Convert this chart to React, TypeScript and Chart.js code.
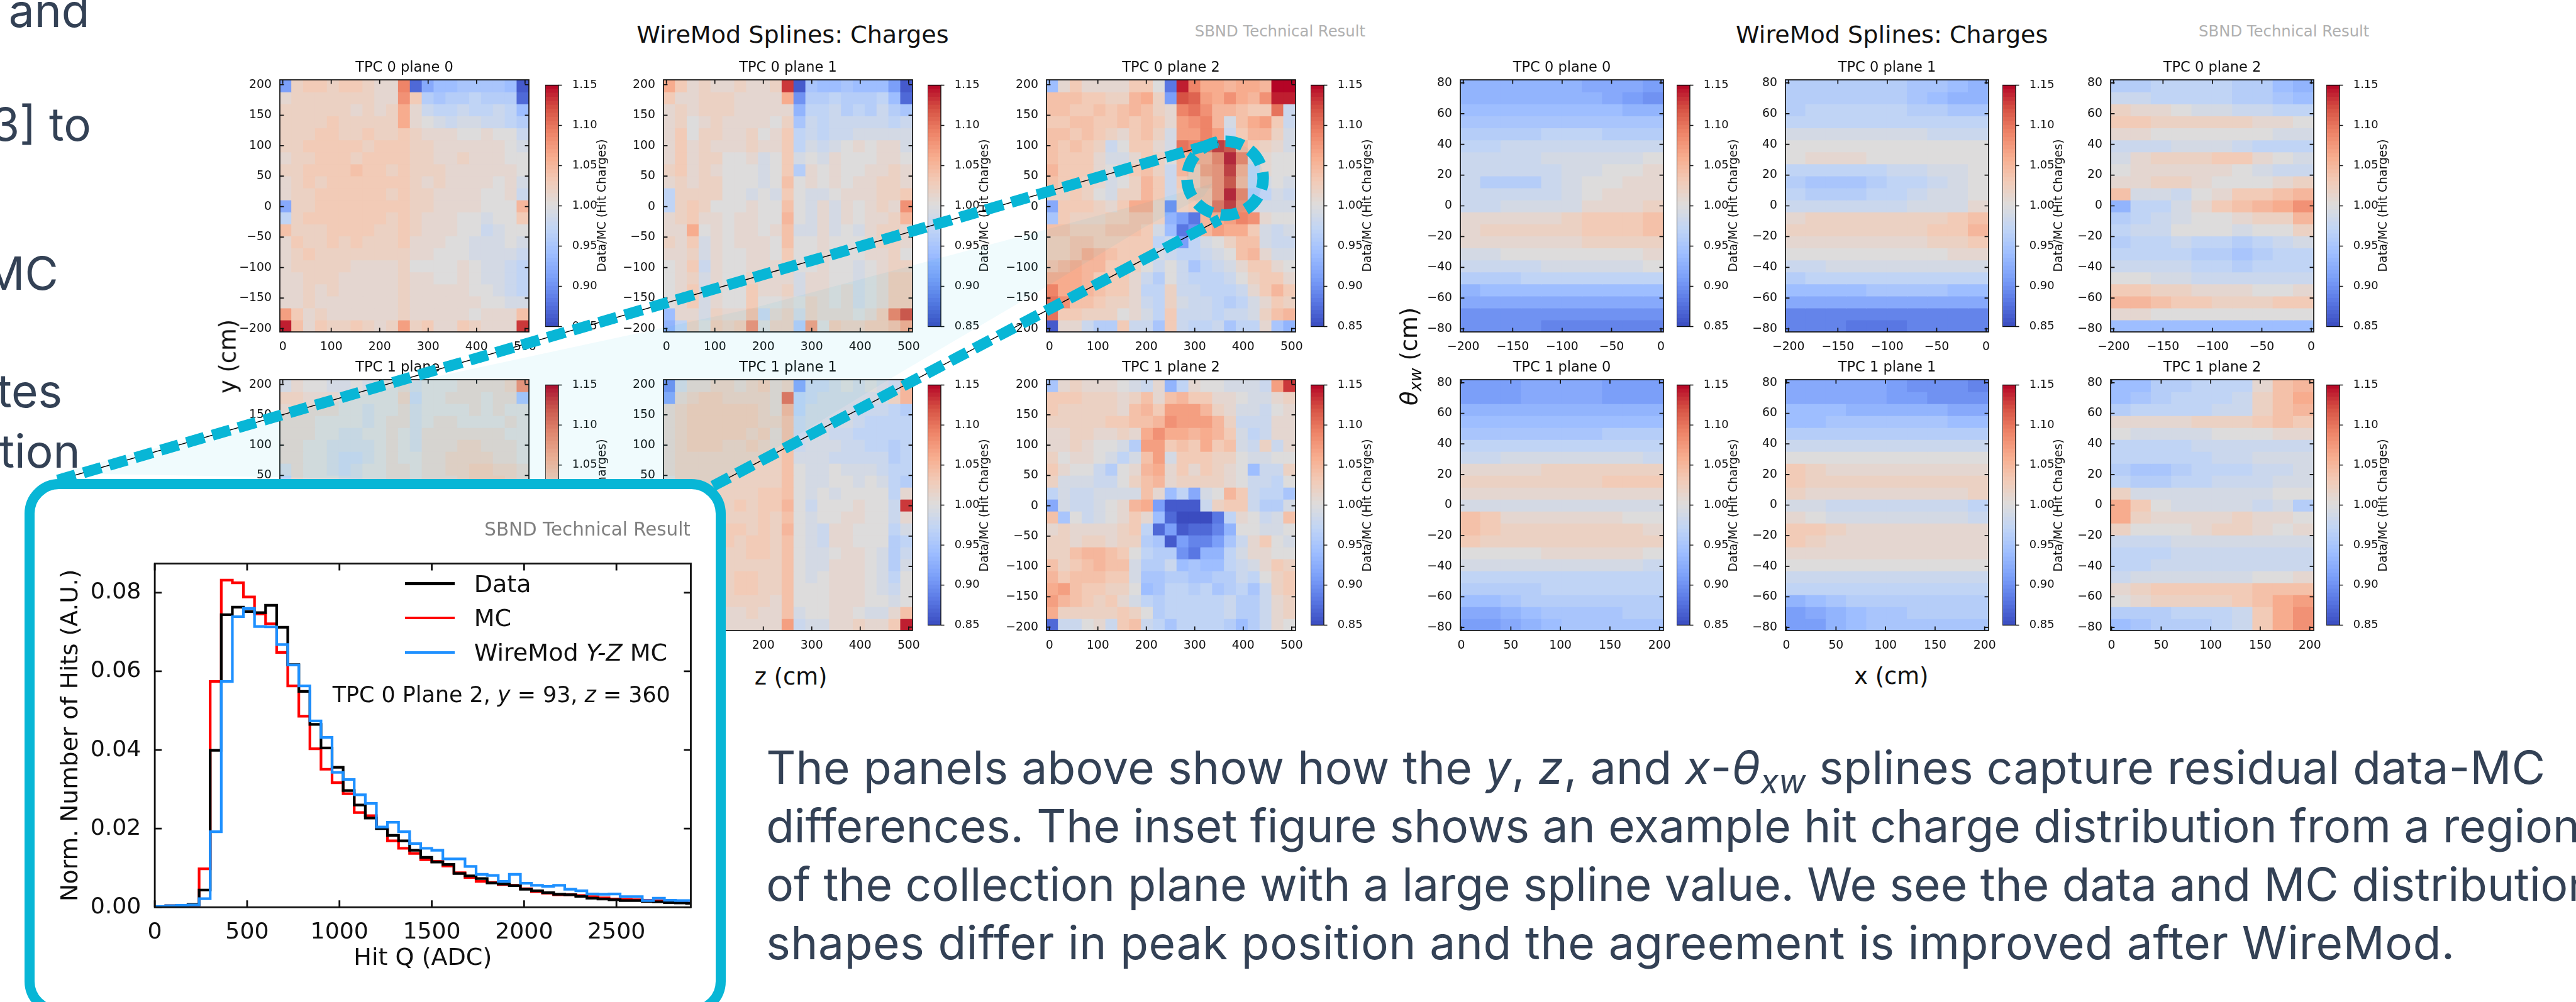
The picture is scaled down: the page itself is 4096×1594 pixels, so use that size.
import React, { useEffect, useRef } from 'react';
import { Chart, registerables } from 'chart.js';
Chart.register(...registerables);

const S = 4096 / 4462;
const DJ = '"DejaVu Sans", sans-serif';

// ---------- heat map values: percent deviation of Data/MC from 1.00, rows from top to bottom ----------
const yzTpc0Plane0 = [
[-9,2,3,3,2,3,3,2,1,1,9,-13,-8,-6,-6,-5,-5,-5,-5,-6,-14],
[1,2,2,2,2,2,2,2,1,1,8,3,-4,-5,-4,-4,-3,-4,-4,-4,-13],
[2,2,2,2,2,2,1,2,1,2,6,1,-2,-3,-3,-2,-3,-3,-2,-3,-6],
[2,2,2,2,3,2,2,2,2,2,6,1,0,-1,-2,-1,-1,-2,-2,-3,-4],
[2,2,2,3,3,2,2,3,2,2,3,2,1,1,1,0,0,1,0,0,-2],
[2,2,3,3,3,3,3,2,3,3,3,2,2,1,1,1,1,1,1,0,-1],
[1,2,2,3,3,3,2,3,3,3,3,2,2,1,1,2,1,1,1,0,0],
[2,2,3,3,3,3,4,3,3,2,3,2,2,2,1,1,1,1,1,1,0],
[1,2,3,2,3,3,3,3,3,3,3,2,1,2,1,1,1,1,0,1,-1],
[1,2,2,3,3,3,3,3,3,2,3,2,2,1,1,1,1,0,0,1,-2],
[-8,2,2,3,3,3,3,3,3,3,3,2,2,1,1,1,1,0,0,0,5],
[-3,2,3,3,3,3,3,3,3,2,3,2,1,1,1,0,0,-1,0,0,3],
[4,2,2,2,3,3,3,3,2,2,3,2,1,1,1,0,0,-2,-1,0,0],
[1,3,2,2,3,2,3,2,2,2,3,1,1,1,0,0,-1,-1,-1,0,-1],
[1,2,3,2,2,2,2,2,2,2,2,1,1,0,0,0,-1,-1,-1,-1,-2],
[1,2,2,2,2,2,1,1,1,1,2,0,0,0,0,1,0,-1,-1,-2,-3],
[1,1,2,2,2,1,1,1,1,1,2,1,1,0,0,1,0,-1,-1,-2,-3],
[1,1,2,1,2,1,1,1,1,1,2,1,1,1,1,1,0,0,-1,-2,-3],
[1,1,2,1,1,1,1,1,1,1,2,1,1,1,1,1,1,0,0,-1,-1],
[7,3,1,2,1,1,1,1,1,1,2,1,1,1,1,1,0,1,1,1,4],
[14,4,1,3,2,2,3,2,1,2,7,2,3,1,1,3,2,1,1,1,13],
];
const yzTpc0Plane1 = [
[6,3,1,2,1,1,2,1,1,2,13,-14,-5,-6,-6,-5,-6,-6,-6,-9,-14],
[3,1,1,2,2,2,1,1,1,1,6,-10,-4,-4,-3,-4,-4,-4,-3,-6,-13],
[1,2,1,2,2,2,1,1,1,1,1,-7,-3,-3,-2,-4,-3,-4,-2,-4,-5],
[1,2,0,1,2,1,1,1,1,0,2,-5,-2,-3,-2,-2,-2,-2,-2,-3,-2],
[1,3,0,2,2,1,1,2,0,1,3,-3,-2,-3,-2,-2,-1,-1,-1,-1,-1],
[1,3,1,2,1,1,1,2,1,1,3,-3,-1,-2,-1,0,1,0,1,1,-1],
[1,3,1,2,2,0,0,1,-1,0,3,-1,0,-1,1,0,0,0,1,1,0],
[2,3,1,2,1,0,0,0,-1,0,3,-4,1,0,1,0,0,1,1,2,1],
[1,2,1,2,2,0,0,0,-1,0,4,0,1,0,1,0,1,1,2,2,1],
[-3,2,2,2,2,0,0,-1,0,-1,3,0,-1,-1,0,1,1,1,2,2,3],
[-3,2,3,2,0,0,0,1,0,0,4,0,-1,1,-1,1,0,1,2,1,8],
[1,2,3,1,1,0,1,1,0,0,5,0,-1,1,-1,1,0,1,1,2,5],
[1,1,6,0,1,0,1,1,0,1,4,-1,-1,1,-1,0,-1,1,2,2,1],
[2,1,3,-1,1,0,1,1,1,0,4,0,0,1,0,0,0,1,2,2,1],
[1,1,2,-1,1,0,0,1,1,0,3,0,0,1,0,0,0,1,1,2,0],
[0,1,3,-2,1,0,0,1,1,1,2,0,0,1,0,0,-1,0,1,2,2],
[0,1,2,-1,1,0,0,2,1,1,1,-1,1,1,0,0,-1,0,1,3,3],
[0,1,3,-1,1,0,0,3,1,1,2,-1,1,1,0,1,-1,0,1,3,3],
[0,1,3,-1,1,0,0,3,0,0,1,0,2,1,0,1,-1,0,1,3,3],
[-6,1,1,-1,2,1,1,4,-2,1,2,-1,2,1,1,1,0,1,3,9,12],
[-7,-3,2,0,3,2,3,8,0,2,2,-4,7,0,3,2,2,3,3,4,6],
];
const yzTpc0Plane2 = [
[-6,1,3,1,1,1,1,3,3,0,-12,14,9,6,6,5,6,6,5,15,15],
[4,4,4,3,3,2,2,5,6,2,-9,12,11,7,6,8,6,5,8,14,14],
[4,4,3,3,4,3,4,5,4,2,1,9,10,8,5,5,4,3,3,10,-2],
[3,3,4,4,3,3,4,3,4,3,1,7,8,9,5,-1,4,6,7,3,-2],
[4,4,3,4,3,2,1,3,4,2,-1,7,7,9,7,-2,3,5,5,2,-1],
[4,3,4,3,2,-2,0,3,3,1,-1,10,9,10,13,12,5,3,2,1,-1],
[4,3,3,3,1,-1,-1,1,3,2,0,5,6,6,9,14,9,-1,1,0,0],
[5,3,3,3,1,0,1,3,4,2,-2,5,3,7,8,13,6,-3,1,0,0],
[4,3,3,2,1,-1,0,2,5,3,-2,3,3,5,8,12,5,-3,-1,0,-1],
[2,2,3,2,0,-1,2,2,5,3,-2,2,4,4,8,14,9,-4,-3,-1,-2],
[-8,3,3,3,2,1,3,6,6,2,-10,2,3,4,10,13,8,-1,-1,-1,-1],
[-5,3,2,2,2,3,3,4,4,2,-7,-9,-12,5,6,7,9,8,1,0,0],
[4,4,3,3,3,4,4,4,3,-1,-6,-12,-10,5,7,6,6,3,-1,-2,-1],
[3,3,4,4,3,3,3,3,3,-3,-2,-9,-3,-1,0,2,4,4,-1,-2,-2],
[3,3,4,6,5,4,3,3,3,-1,-2,-3,-3,-2,-1,0,4,5,1,-1,-1],
[4,5,6,5,5,3,3,2,0,-2,0,-2,-5,-3,-2,-1,1,3,3,1,0],
[6,6,6,5,3,3,3,1,-2,-4,0,-2,-3,-3,-3,-2,0,2,3,3,1],
[9,6,6,5,4,3,3,1,-3,-3,2,-2,-2,-3,-3,-3,-2,1,3,5,3],
[10,8,4,4,3,2,2,1,-2,-3,2,-1,-2,-2,-3,-4,-3,-1,1,3,2],
[10,3,3,2,2,2,0,1,-1,-3,3,-2,-2,-2,-3,-2,-2,-1,2,4,5],
[-14,1,1,-2,-4,-4,3,-2,-2,-5,3,-2,-3,-3,-2,-5,-3,-3,1,-5,-7],
];
// only the rows that the inset does not cover can be read
const yzTpc1Plane0 = [
[-1,1,0,0,-1,-1,0,-1,0,0,1,-1,0,0,0,1,1,1,1,2,8],
[2,2,1,1,1,0,0,0,0,0,2,-2,0,0,1,1,1,0,1,1,-5],
[1,2,1,1,1,0,0,-1,0,0,1,-1,0,0,0,0,1,0,1,0,0],
[1,1,1,0,0,0,0,-1,0,1,1,-1,0,1,1,0,0,0,0,1,0],
[1,1,1,0,0,-1,-1,0,0,1,0,-1,1,1,1,1,1,1,1,0,0],
[1,1,0,0,-1,-1,-1,-1,0,1,0,-1,1,1,1,2,2,1,1,1,0],
[1,1,0,0,-1,-2,-2,-1,0,1,0,0,1,1,2,2,2,2,1,1,0],
[-1,1,0,0,-1,-2,-1,0,0,1,1,0,1,1,2,2,3,3,2,2,1],
[-3,1,0,0,0,-1,-1,0,0,1,1,0,1,1,1,2,3,3,3,2,1],
];
const yzTpc1Plane1 = [
[-10,-1,1,1,2,2,1,2,3,1,2,-8,-2,-2,-1,0,-1,0,-1,-2,5],
[-8,1,2,3,3,2,2,2,2,1,10,-3,-2,-1,-1,-1,-1,-1,-1,2,5],
[1,2,3,3,3,3,3,3,2,1,5,-3,-1,-1,-1,-1,-2,-2,-2,-3,-4],
[1,2,3,3,3,3,3,3,2,2,4,-2,-1,-1,-1,-1,-2,-3,-3,-3,-3],
[1,2,3,3,3,3,3,2,3,1,4,-2,-1,-1,-2,-2,-3,-3,-3,-3,-3],
[1,2,3,3,3,2,2,3,2,1,4,-2,-1,-1,-1,-2,-2,-3,-3,-4,-3],
[1,2,2,2,2,2,2,2,2,2,4,-1,-1,-1,-2,-2,-2,-2,-2,-4,-3],
[1,2,2,2,2,2,2,2,2,2,4,0,-1,-1,0,-1,-1,-1,-2,-3,-3],
[0,2,2,2,2,2,2,2,2,2,4,0,-1,-1,0,0,-1,0,-1,-3,-4],
[0,2,2,2,2,2,2,2,3,3,4,0,-1,0,-1,0,0,0,0,-3,1],
[0,1,2,2,2,2,3,2,3,3,5,0,-2,0,0,0,1,0,0,-2,13],
[0,1,2,2,2,2,2,2,3,2,4,0,-1,0,0,1,1,0,0,-2,1],
[0,1,2,2,2,3,3,2,3,2,5,0,-1,-2,1,1,0,0,0,-3,-1],
[0,1,2,2,2,3,2,3,3,2,4,0,-1,-2,1,1,0,0,0,-4,-3],
[0,1,2,2,2,2,2,3,3,2,4,0,-1,-1,0,1,1,0,-1,-4,-2],
[0,1,2,2,2,2,2,2,2,2,4,0,-1,-1,1,1,1,0,-1,-4,-1],
[0,1,2,2,2,2,3,3,2,2,4,0,-1,0,1,1,1,0,-1,-3,0],
[0,1,2,2,2,2,3,3,2,2,4,0,0,0,1,1,1,0,-1,-2,0],
[0,1,1,1,2,2,2,2,2,1,4,0,0,0,1,1,1,0,0,-1,0],
[0,1,1,1,1,1,1,2,1,1,4,-1,0,0,1,1,0,-1,-1,1,4],
[0,1,1,1,1,1,1,1,1,1,7,-2,-1,-1,1,1,2,1,1,3,14],
];
const yzTpc1Plane2 = [
[-5,1,2,1,1,1,0,-1,-2,1,-7,-3,1,0,0,-1,-1,-1,-2,7,13],
[3,3,3,2,2,2,1,2,4,1,4,5,3,3,1,1,0,-1,-1,1,2],
[3,2,2,2,2,2,1,4,5,3,7,7,7,5,2,1,-1,-1,-2,0,1],
[2,2,2,2,2,3,3,4,4,5,8,7,7,7,5,2,-2,-2,-2,1,1],
[1,1,2,2,1,1,2,1,6,8,6,6,5,6,5,3,-1,-3,-2,1,1],
[1,1,2,1,0,0,-1,-4,7,7,3,4,3,6,3,4,-1,-2,2,-2,1],
[2,0,1,1,0,-1,-3,-1,4,7,-1,3,3,3,2,2,0,-1,-1,0,0],
[3,1,0,0,-2,-4,0,1,5,6,1,3,1,3,2,1,0,-6,-2,-2,2],
[2,-1,-1,-1,-2,-2,0,2,4,5,1,2,2,2,2,1,0,-2,-2,-3,0],
[-3,-1,-2,-2,-1,-1,-1,-1,4,1,-6,-3,-8,-1,0,5,3,-2,-3,-3,-5],
[-8,-1,-2,-2,-1,0,1,5,6,-9,-14,-14,-14,-2,2,3,3,-2,-4,-4,-1],
[4,-5,0,-2,-1,0,1,3,1,-6,-13,-15,-15,-15,-12,-3,1,0,-2,-1,4],
[1,2,1,1,1,1,2,3,-3,-13,-9,-14,-13,-13,-11,-7,0,0,-1,-1,0],
[2,2,1,2,2,1,2,2,-4,-5,-14,-9,-11,-11,-9,-5,-2,1,3,0,-1],
[2,2,4,5,5,4,3,0,-3,-4,-4,-10,-12,-7,-7,-3,-1,1,1,0,0],
[4,2,3,4,5,4,4,-1,-4,-4,-2,-6,-5,-6,-6,-3,-2,-1,1,3,2],
[5,3,4,4,4,3,3,-1,-5,-5,-4,-4,-5,-5,-4,-4,-2,-3,0,2,3],
[6,7,4,3,3,2,2,0,-6,-5,-3,-3,-4,-3,-5,-4,-3,-5,-2,2,3],
[7,5,4,3,2,3,1,-1,-3,-4,-3,-3,-3,-3,-3,-2,-4,-4,-2,1,2],
[6,2,2,2,2,2,3,2,0,-4,-3,-3,-3,-3,-3,-2,-4,-4,-2,1,2],
[-13,-2,-2,0,1,-2,3,4,-2,-3,-5,-3,-3,-3,-3,-4,-6,-4,-2,1,0],
];
const xtTpc0Plane0 = [
[-7,-7,-7,-7,-7,-7,-8,-8,-8,-9],[-7,-7,-7,-7,-7,-7,-7,-8,-9,-10],[-6,-6,-6,-6,-6,-6,-6,-6,-7,-7],
[-5,-5,-5,-5,-5,-5,-5,-5,-5,-5],[-4,-4,-4,-4,-3,-3,-3,-4,-4,-4],[-3,-3,-2,-2,-2,-2,-2,-2,-2,-2],
[-2,-2,-2,-2,-1,-1,-1,-1,-1,0],[-2,-2,-2,-2,-2,-1,-1,0,0,1],[-2,-4,-4,-4,-2,-1,0,0,1,1],
[-2,-2,-2,-2,-2,-1,0,1,1,1],[-2,-2,-1,-1,-1,-1,1,1,1,2],[1,1,1,1,1,2,3,3,3,4],
[1,2,2,2,2,2,3,3,3,4],[1,1,1,1,1,1,2,2,2,2],[-1,-1,0,0,0,0,0,0,0,1],
[-2,-2,-2,-2,-1,-1,-1,-1,-1,0],[-4,-4,-4,-3,-3,-3,-3,-3,-3,-3],[-7,-6,-6,-6,-6,-6,-6,-6,-6,-6],
[-8,-8,-8,-8,-8,-8,-8,-8,-8,-8],[-10,-10,-10,-10,-10,-10,-10,-10,-10,-10],[-10,-10,-10,-10,-11,-11,-11,-11,-11,-11],
];
const xtTpc0Plane1 = [
[-4,-4,-4,-4,-4,-4,-5,-5,-6,-7],[-4,-4,-4,-4,-4,-4,-5,-6,-7,-7],[-4,-3,-3,-3,-3,-3,-4,-4,-5,-5],
[-3,-3,-3,-3,-3,-3,-3,-3,-3,-3],[-1,-1,-1,-1,-1,-1,-1,-2,-2,-2],[0,0,0,0,0,0,0,0,0,0],
[0,1,1,1,0,0,0,0,0,0],[-3,-3,-3,-3,-3,-2,-2,-1,-1,0],[-4,-5,-5,-5,-4,-3,-3,-2,-1,0],
[-3,-4,-4,-4,-3,-3,-2,-1,-1,0],[-2,-2,-2,-2,-2,-2,-1,-1,-1,1],[1,2,2,2,2,2,2,2,3,4],
[2,2,2,2,2,2,2,3,3,5],[1,1,1,1,1,1,1,2,2,3],[0,0,0,0,0,0,0,0,1,1],
[-2,-2,-1,-1,-1,-1,-1,-1,-1,-1],[-4,-3,-3,-3,-3,-3,-3,-3,-3,-3],[-6,-6,-6,-6,-5,-5,-5,-5,-6,-6],
[-8,-8,-8,-8,-8,-8,-8,-8,-8,-8],[-11,-11,-11,-11,-11,-11,-11,-11,-11,-11],[-11,-11,-11,-12,-12,-12,-11,-11,-11,-11],
];
const xtTpc0Plane2 = [
[-4,-4,-3,-3,-3,-3,-4,-4,-6,-7],[-2,-2,-3,-3,-3,-3,-4,-4,-5,-6],[2,1,1,0,-1,-1,-2,-2,-3,-3],
[3,3,2,2,2,2,2,1,1,0],[1,1,0,0,0,0,0,0,-1,-1],[-2,-2,-2,-1,-1,-1,-2,-3,-3,-3],
[-1,1,2,2,2,3,3,1,0,-1],[0,1,1,1,1,1,0,-1,-2,-2],[1,1,2,2,1,0,0,0,1,2],
[4,-1,-1,-2,0,1,3,3,4,5],[-7,-3,-3,-1,1,3,4,5,6,8],[-4,-3,-2,-1,0,0,1,2,2,5],
[-3,-2,-2,0,0,0,-1,0,0,2],[-4,-3,-3,-2,-3,-3,-4,-3,-2,-1],[-3,-3,-3,-3,-4,-4,-5,-4,-3,-3],
[-2,-2,-2,-2,-3,-3,-4,-3,-3,-3],[0,0,-1,-1,-2,-2,-2,-2,-2,-2],[3,3,2,2,1,1,1,0,0,1],
[5,5,4,3,3,2,2,2,3,3],[1,1,0,0,0,0,0,0,0,0],[-6,-6,-6,-6,-6,-6,-6,-6,-6,-6],
];
const xtTpc1Plane0 = [
[-9,-9,-9,-8,-8,-8,-8,-9,-9,-9],[-9,-9,-9,-8,-8,-8,-8,-9,-9,-9],[-7,-7,-7,-7,-7,-7,-7,-7,-7,-7],
[-6,-6,-6,-6,-6,-6,-6,-6,-6,-6],[-5,-5,-5,-5,-5,-5,-5,-4,-4,-4],[-3,-3,-3,-3,-3,-3,-3,-3,-3,-3],
[-2,-2,-1,-1,-1,-1,-1,-1,-1,-2],[1,1,1,1,2,2,2,2,2,2],[2,2,2,2,2,2,2,3,3,3],
[1,1,1,1,1,1,1,1,1,1],[-1,-1,-1,-1,-1,-1,-1,-1,-1,-1],[4,3,1,1,1,1,1,1,0,0],
[4,3,2,2,2,2,2,2,2,1],[3,2,2,2,2,2,2,2,2,2],[0,0,0,0,1,1,1,1,1,0],
[-1,-1,-1,-1,-1,-1,-1,-1,-1,-2],[-3,-3,-3,-3,-3,-3,-3,-3,-3,-3],[-4,-4,-4,-4,-3,-3,-3,-3,-3,-3],
[-6,-6,-5,-4,-4,-4,-4,-4,-4,-4],[-8,-8,-7,-6,-5,-5,-5,-5,-4,-4],[-9,-9,-8,-7,-6,-5,-5,-5,-5,-5],
];
const xtTpc1Plane1 = [
[-8,-8,-8,-8,-8,-9,-10,-10,-10,-11],[-8,-8,-8,-8,-8,-9,-9,-10,-10,-10],[-6,-6,-6,-7,-7,-7,-7,-7,-8,-8],
[-6,-6,-5,-5,-5,-5,-5,-5,-6,-6],[-4,-4,-4,-4,-4,-4,-4,-4,-4,-4],[-2,-2,-2,-2,-2,-2,-2,-2,-2,-2],
[0,0,0,0,0,0,0,0,0,0],[3,2,1,1,1,1,1,1,1,1],[3,2,2,2,2,2,2,2,2,2],
[2,1,1,1,1,1,1,1,1,2],[-1,-1,-2,-2,-2,-2,-2,-2,-2,-3],[1,0,-1,-1,-1,-1,-1,-1,-1,-2],
[3,3,2,1,1,1,1,1,1,1],[3,2,1,1,1,1,1,1,1,1],[1,1,1,1,1,1,1,1,1,1],
[0,0,0,0,0,0,0,0,0,0],[-2,-2,-2,-2,-2,-2,-2,-2,-2,-2],[-3,-3,-3,-3,-3,-3,-3,-3,-3,-3],
[-7,-6,-5,-4,-4,-4,-4,-4,-4,-4],[-9,-8,-7,-6,-5,-5,-4,-4,-4,-4],[-9,-9,-7,-6,-5,-5,-5,-5,-5,-5],
];
const xtTpc1Plane2 = [
[-6,-6,-4,-4,-3,-3,-3,1,4,5],[-6,-5,-4,-3,-3,-3,-2,2,4,6],[-4,-3,-3,-3,-3,-2,-2,2,4,5],
[1,1,1,1,2,2,2,3,4,3],[0,-1,-1,-1,-1,0,0,0,1,1],[-3,-3,-3,-3,-2,-2,-2,-2,-2,-2],
[-3,-3,-3,-3,-3,-2,-2,-1,-1,-1],[-4,-5,-5,-4,-3,-3,-3,-2,-2,-1],[-3,-4,-4,-3,-3,-2,-2,-2,-1,-1],
[2,-1,-1,-1,-1,-1,-1,-1,0,0],[6,3,0,-1,-1,-1,-1,-2,-1,-4],[6,2,1,1,1,1,2,1,1,0],
[2,0,0,0,1,2,2,1,0,1],[-2,-2,-2,-1,-1,-1,-1,-1,-1,-1],[-3,-3,-3,-2,-2,-2,-2,-2,-2,-2],
[-3,-3,-2,-2,-2,-2,-2,-2,-2,-2],[-2,-1,-1,-1,-1,-1,-1,0,0,1],[1,2,3,3,3,3,3,4,4,4],
[0,1,2,2,2,2,3,4,6,7],[-4,-4,-4,-3,-3,-3,-2,3,6,8],[-6,-5,-4,-4,-4,-3,-2,3,6,8],
];

// ---------- inset histogram: 60 ADC bins from 0 ----------
const hitBinWidth = 60;
const hitData = [.0002,.0004,.0005,.0007,.0044,.0399,.0744,.0763,.0752,.0749,.0768,.0712,.0617,.0549,.0465,.0405,.0356,.0297,.026,.0227,.02,.0183,.0169,.0145,.0127,.0115,.0109,.0086,.008,.0073,.0062,.0059,.0055,.0046,.0042,.0037,.0033,.0032,.0028,.0023,.0021,.0019,.0017,.0017,.0015,.0014,.0012,.0011,.001];
const hitMC = [.0002,.0004,.0005,.0006,.0098,.0574,.0832,.0825,.0789,.0746,.0721,.0648,.0563,.0486,.0403,.0351,.0317,.0289,.0241,.0233,.0202,.0169,.015,.0137,.0121,.0117,.0105,.0088,.0076,.0066,.0063,.0058,.0056,.0047,.004,.0036,.0032,.0032,.003,.0027,.0024,.0021,.002,.0019,.0018,.0016,.0014,.0013,.0012];
const hitWireMod = [.0002,.0004,.0005,.0006,.0022,.0192,.0574,.0739,.076,.0714,.0713,.0668,.0616,.0563,.0474,.0432,.0343,.0325,.0286,.0264,.0204,.0216,.0192,.0162,.015,.0145,.0123,.0123,.0104,.0084,.0081,.0066,.0084,.0061,.0056,.0053,.0056,.0046,.0042,.0034,.0033,.0034,.0027,.0027,.0017,.0023,.0018,.0017,.0017];
const hitYTicks = [0, 0.02, 0.04, 0.06, 0.08];
const hitXTicks = [0, 500, 1000, 1500, 2000, 2500];

const zTicks = [0, 100, 200, 300, 400, 500];
const yTicks = [-200, -150, -100, -50, 0, 50, 100, 150, 200];
const thetaTicks = [-80, -60, -40, -20, 0, 20, 40, 60, 80];
const xTicksNeg = [-200, -150, -100, -50, 0];
const xTicksPos = [0, 50, 100, 150, 200];
const cbTicks = [0.85, 0.9, 0.95, 1.0, 1.05, 1.1, 1.15];

// ---------- colour map ----------
const coolwarm = ['#3b4cc0','#5977e3','#7b9ff9','#9ebeff','#c0d4f5','#dddcdc','#f2cbb7','#f7ac8e','#ee8468','#d65244','#b40426'];
const rgb = coolwarm.map(h => [1, 3, 5].map(i => parseInt(h.slice(i, i + 2), 16)));
function cmap(v: number) {
  const t = Math.max(0, Math.min(1, (v - 0.85) / 0.3)) * 10;
  const i = Math.min(9, Math.floor(t));
  const f = t - i;
  const c = rgb[i].map((a, k) => Math.round(a + (rgb[i + 1][k] - a) * f));
  return `rgb(${c[0]},${c[1]},${c[2]})`;
}
const fmtMinus = (v: number) => String(v).replace('-', '\u2212');

function framePlugin(len: number, lw: number, outward = false) {
  return {
    id: 'frame' + Math.random(),
    afterDraw(chart: any) {
      const { ctx, chartArea: a, scales } = chart;
      ctx.save();
      ctx.strokeStyle = '#111';
      ctx.lineWidth = lw;
      ctx.strokeRect(a.left, a.top, a.right - a.left, a.bottom - a.top);
      ctx.beginPath();
      if (outward) {
        scales.y.ticks.forEach((t: any) => {
          const p = scales.y.getPixelForValue(t.value);
          ctx.moveTo(a.right, p); ctx.lineTo(a.right + len, p);
        });
      } else {
        scales.x.ticks.forEach((t: any) => {
          const p = scales.x.getPixelForValue(t.value);
          ctx.moveTo(p, a.top); ctx.lineTo(p, a.top + len);
          ctx.moveTo(p, a.bottom); ctx.lineTo(p, a.bottom - len);
        });
        scales.y.ticks.forEach((t: any) => {
          const p = scales.y.getPixelForValue(t.value);
          ctx.moveTo(a.left, p); ctx.lineTo(a.left + len, p);
          ctx.moveTo(a.right, p); ctx.lineTo(a.right - len, p);
        });
      }
      ctx.stroke();
      ctx.restore();
    },
  };
}

function Heat({ x, y, w, h, title, grid, rows, xr, yr, xt, yt }: any) {
  const ref = useRef<HTMLCanvasElement>(null);
  const padL = 75, padR = 26, padB = 42, titleH = 32;
  const W = Math.round(w * S) + padL + padR;
  const H = Math.round(h * S) + titleH + padB;
  useEffect(() => {
    const nr = rows || grid.length;
    const nc = grid[0].length;
    const dx = (xr[1] - xr[0]) / nc;
    const dy = (yr[1] - yr[0]) / nr;
    const datasets = grid.map((row: number[], r: number) => ({
      data: row.map((_: number, c: number) => ({
        x: xr[0] + (c + 0.5) * dx,
        y: [yr[1] - (r + 1) * dy, yr[1] - r * dy],
      })),
      backgroundColor: row.map((v: number) => cmap(1 + v / 100)),
      borderWidth: 0,
      inflateAmount: 0.7,
      barPercentage: 1,
      categoryPercentage: 1,
      grouped: false,
    }));
    const chart = new Chart(ref.current!, {
      type: 'bar',
      data: { datasets },
      plugins: [framePlugin(7 * S, 1.7)],
      options: {
        responsive: false,
        animation: false,
        events: [],
        devicePixelRatio: 1,
        layout: { padding: { left: 0, right: padR, top: 0, bottom: 0 } },
        plugins: {
          legend: { display: false },
          tooltip: { enabled: false },
          title: {
            display: true,
            fullSize: false,
            text: title,
            color: '#111',
            font: { family: DJ, size: 24.5 * S, weight: 'normal' },
            padding: { top: 0, bottom: 5 },
          },
        },
        scales: {
          x: {
            type: 'linear', min: xr[0], max: xr[1], offset: false,
            grid: { display: false }, border: { display: false },
            afterBuildTicks: (s: any) => { s.ticks = xt.map((value: number) => ({ value })); },
            afterFit: (s: any) => { s.height = padB; },
            ticks: { callback: fmtMinus, color: '#111', maxRotation: 0, autoSkip: false, padding: 5, font: { family: DJ, size: 20.5 * S } },
          },
          y: {
            type: 'linear', min: yr[0], max: yr[1],
            grid: { display: false }, border: { display: false },
            afterBuildTicks: (s: any) => { s.ticks = yt.map((value: number) => ({ value })); },
            afterFit: (s: any) => { s.width = padL; },
            ticks: { callback: fmtMinus, color: '#111', autoSkip: false, padding: 5, font: { family: DJ, size: 20.5 * S } },
          },
        },
      } as any,
    });
    return () => chart.destroy();
  }, []);
  return <canvas ref={ref} width={W} height={H} style={{ position: 'absolute', left: Math.round(x * S) - padL, top: Math.round(y * S) - titleH }} />;
}

const cbEdges = Array.from({ length: 61 }, (_, i) => 0.85 + i * 0.005);

function ColorBar({ x, y, h }: any) {
  const ref = useRef<HTMLCanvasElement>(null);
  const pad = 16, cw = Math.round(23 * S), axisW = 68;
  useEffect(() => {
    const datasets = cbEdges.slice(0, -1).map((lo, i) => ({
      data: [[lo, cbEdges[i + 1]]],
      backgroundColor: cmap(lo + 0.0025),
      borderWidth: 0,
      inflateAmount: 0.7,
      barPercentage: 1,
      categoryPercentage: 1,
      grouped: false,
    }));
    const chart = new Chart(ref.current!, {
      type: 'bar',
      data: { labels: ['cb'], datasets },
      plugins: [framePlugin(6 * S, 1.4, true)],
      options: {
        responsive: false,
        animation: false,
        events: [],
        devicePixelRatio: 1,
        layout: { padding: { top: pad, bottom: pad, left: 0, right: 0 } },
        plugins: { legend: { display: false }, tooltip: { enabled: false } },
        scales: {
          x: { display: false, offset: true },
          y: {
            type: 'linear', position: 'right', min: 0.85, max: 1.15,
            grid: { display: false }, border: { display: false },
            afterBuildTicks: (s: any) => { s.ticks = cbTicks.map((value) => ({ value })); },
            afterFit: (s: any) => { s.width = axisW; },
            ticks: { callback: (v: number) => Number(v).toFixed(2), color: '#111', autoSkip: false, padding: 15 * S, font: { family: DJ, size: 19.5 * S } },
          },
        },
      } as any,
    });
    return () => chart.destroy();
  }, []);
  return <canvas ref={ref} width={cw + axisW} height={Math.round(h * S) + 2 * pad} style={{ position: 'absolute', left: Math.round(x * S), top: Math.round(y * S) - pad }} />;
}

function Inset() {
  const ref = useRef<HTMLCanvasElement>(null);
  const L = 99, T = 938, R = 1215, B = 1686;
  const plotL = 268, plotT = 958, plotR = 1197, plotB = 1572;
  useEffect(() => {
    const pts = (vals: number[]) => [...vals, vals[vals.length - 1]].map((v, i) => ({ x: i * hitBinWidth, y: v }));
    const line = (label: string, vals: number[], color: string) => ({
      label, data: pts(vals), borderColor: color, borderWidth: 4.6 * S, pointRadius: 0,
      stepped: 'before', fill: false, borderJoinStyle: 'miter', tension: 0,
    });
    const chart = new Chart(ref.current!, {
      type: 'line',
      data: { datasets: [line('WireMod Y-Z MC', hitWireMod, '#1e90ff'), line('Data', hitData, '#000000'), line('MC', hitMC, '#ff0000')] },
      plugins: [framePlugin(12 * S, 2.8)],
      options: {
        responsive: false,
        animation: false,
        events: [],
        devicePixelRatio: 1,
        layout: { padding: { left: 0, top: (plotT - T) * S, right: (R - plotR) * S, bottom: 0 } },
        plugins: { legend: { display: false }, tooltip: { enabled: false } },
        scales: {
          x: {
            type: 'linear', min: 0, max: 2903,
            grid: { display: false }, border: { display: false },
            afterBuildTicks: (s: any) => { s.ticks = hitXTicks.map((value) => ({ value })); },
            afterFit: (s: any) => { s.height = (B - plotB) * S; },
            title: { display: true, text: 'Hit Q (ADC)', color: '#111', padding: 0, font: { family: DJ, size: 41.5 * S } },
            ticks: { callback: (v: number) => String(v), color: '#111', autoSkip: false, maxRotation: 0, padding: 11 * S, font: { family: DJ, size: 39.5 * S } },
          },
          y: {
            type: 'linear', min: 0, max: 0.0874,
            grid: { display: false }, border: { display: false },
            afterBuildTicks: (s: any) => { s.ticks = hitYTicks.map((value) => ({ value })); },
            afterFit: (s: any) => { s.width = (plotL - L) * S; },
            title: { display: true, text: 'Norm. Number of Hits (A.U.)', color: '#111', padding: 0, font: { family: DJ, size: 41 * S } },
            ticks: { callback: (v: number) => Number(v).toFixed(2), color: '#111', autoSkip: false, padding: 15 * S, font: { family: DJ, size: 39.5 * S } },
          },
        },
      } as any,
    });
    return () => chart.destroy();
  }, []);
  return <canvas ref={ref} width={Math.round((R - L) * S)} height={Math.round((B - T) * S)} style={{ position: 'absolute', left: L * S, top: T * S, zIndex: 5 }} />;
}

// centred label, reference coordinates
function Lbl({ x, y, fs, rot, color, z, children, font, anchor }: any) {
  const tx = anchor === 'left' ? '0' : anchor === 'right' ? '-100%' : '-50%';
  return (
    <div style={{
      position: 'absolute', left: x * S, top: y * S, whiteSpace: 'nowrap', fontFamily: font || DJ, fontSize: fs * S,
      lineHeight: 1, color: color || '#111', zIndex: z || 1,
      transform: `translate(${tx},-50%)${rot ? ` rotate(${rot}deg)` : ''}`,
    }}>{children}</div>
  );
}

const INTER = 'Inter, "Noto Sans", sans-serif';
const SLATE = '#334155';
const BODY_FS = 79.5;
// baseline in reference coordinates
function BodyLine({ x, base, right, ls, children }: any) {
  const top = (base - 0.8636 * BODY_FS) * S;
  const pos: any = right !== undefined ? { left: right * S, transform: 'translateX(-100%)' } : { left: x * S };
  return <div style={{ position: 'absolute', top, ...pos, whiteSpace: 'nowrap', fontFamily: INTER, fontSize: BODY_FS * S, lineHeight: 1, color: SLATE, letterSpacing: ls ? ls * S : undefined }}>{children}</div>;
}

const leftX = [485, 1149, 1813], leftCb = [944, 1607, 2270];
const rightX = [2530, 3093, 3656], rightCb = [2904, 3468, 4030];
const rowY = [138, 658], rowH = [437, 435];
const yzGrids = [[yzTpc0Plane0, yzTpc0Plane1, yzTpc0Plane2], [yzTpc1Plane0, yzTpc1Plane1, yzTpc1Plane2]];
const xtGrids = [[xtTpc0Plane0, xtTpc0Plane1, xtTpc0Plane2], [xtTpc1Plane0, xtTpc1Plane1, xtTpc1Plane2]];
const CY = '#08b6d6';

export default function App() {
  useEffect(() => {
    document.body.style.margin = '0';
    document.documentElement.style.overflow = 'hidden';
    document.body.style.overflow = 'hidden';
    document.body.style.background = '#fff';
  }, []);
  const sub = { fontSize: '0.72em', verticalAlign: '-0.28em', lineHeight: 0 };
  return (
    <div style={{ position: 'fixed', left: 0, top: 0, width: 4096, height: 1594, overflow: 'hidden', background: '#fff' }}>
      {/* left text fragments */}
      <BodyLine x={15} base={47}>and</BodyLine>
      <BodyLine right={158} base={244}>3] to</BodyLine>
      <BodyLine right={101} base={502}>MC</BodyLine>
      <BodyLine right={6} base={606}>.</BodyLine>
      <BodyLine right={108} base={706}>tes</BodyLine>
      <BodyLine right={139} base={811}>tion</BodyLine>

      {/* y-z panels */}
      {[0, 1].map(r => [0, 1, 2].map(c => (
        <React.Fragment key={`l${r}${c}`}>
          <Heat x={leftX[c]} y={rowY[r]} w={431} h={rowH[r]} title={`TPC ${r} plane ${c}`} grid={yzGrids[r][c]} rows={21}
            xr={[-6, 508]} yr={[-205.5, 208]} xt={zTicks} yt={yTicks} />
          <ColorBar x={leftCb[c]} y={rowY[r]} h={rowH[r]} />
          <Lbl x={leftCb[c] + 98} y={rowY[r] + 218} fs={20.5} rot={-90}>Data/MC (Hit Charges)</Lbl>
        </React.Fragment>
      )))}
      {/* x-theta panels */}
      {[0, 1].map(r => [0, 1, 2].map(c => (
        <React.Fragment key={`r${r}${c}`}>
          <Heat x={rightX[c]} y={rowY[r]} w={352} h={rowH[r]} title={`TPC ${r} plane ${c}`} grid={xtGrids[r][c]} rows={21}
            xr={r === 0 ? [-203, 2.5] : [-1, 204]} yr={[-82, 82]} xt={r === 0 ? xTicksNeg : xTicksPos} yt={thetaTicks} />
          <ColorBar x={rightCb[c]} y={rowY[r]} h={rowH[r]} />
          <Lbl x={rightCb[c] + 98} y={rowY[r] + 218} fs={20.5} rot={-90}>Data/MC (Hit Charges)</Lbl>
        </React.Fragment>
      )))}

      <Lbl x={1373} y={60} fs={41.5}>WireMod Splines: Charges</Lbl>
      <Lbl x={3277} y={60} fs={41.5}>WireMod Splines: Charges</Lbl>
      <Lbl x={2365} y={55} fs={26.5} color="#b0b0b0" anchor="right">SBND Technical Result</Lbl>
      <Lbl x={4104} y={55} fs={26.5} color="#b0b0b0" anchor="right">SBND Technical Result</Lbl>
      <Lbl x={395} y={618} fs={40} rot={-90}>y (cm)</Lbl>
      <Lbl x={1370} y={1173} fs={40}>z (cm)</Lbl>
      <Lbl x={3276} y={1172} fs={40}>x (cm)</Lbl>
      <Lbl x={2441} y={618} fs={40} rot={-90}><i>θ</i><i style={sub as any}>xw</i> (cm)</Lbl>

      {/* zoom call-out */}
      <svg width={4096} height={1594} viewBox="0 0 4462 1736" style={{ position: 'absolute', left: 0, top: 0, zIndex: 2 }}>
        <polygon points="100,820 730,658 1300,535 1963,357 2100,318 2085,340 1983,393 1812,497 1537,659 1240,840" fill={CY} fillOpacity={0.06} />
        <ellipse cx={2122} cy={308.5} rx={66} ry={64} fill={CY} fillOpacity={0.07} />
        <line x1={100} y1={832} x2={2110} y2={246} stroke="#000" strokeWidth={1.6} />
        <line x1={1235} y1={842} x2={2113} y2={380} stroke="#000" strokeWidth={1.6} />
        <line x1={100} y1={832} x2={2110} y2={246} stroke={CY} strokeWidth={19} strokeDasharray="32 14.5" />
        <line x1={1235} y1={842} x2={2113} y2={380} stroke={CY} strokeWidth={19} strokeDasharray="32 14.5" />
        <ellipse cx={2122} cy={308.5} rx={66} ry={64} fill="none" stroke={CY} strokeWidth={20} strokeDasharray="31 14.5" strokeDashoffset={12} />
      </svg>

      {/* inset */}
      <div style={{
        position: 'absolute', left: 43 * S, top: 830 * S, width: (1257 - 43) * S, height: (1760 - 830) * S, boxSizing: 'border-box',
        border: `${18 * S}px solid ${CY}`, borderRadius: 60 * S, background: '#fff', zIndex: 3,
      }} />
      <Inset />
      <Lbl x={1196} y={918} fs={32} color="#808080" anchor="right" z={6}>SBND Technical Result</Lbl>
      {[[1011.6, '#000000', 'Data'], [1071, '#ff0000', 'MC'], [1131, '#1e90ff', null]].map(([yy, col, txt]: any) => (
        <React.Fragment key={col}>
          <div style={{ position: 'absolute', left: 702 * S, top: (yy - 2.4) * S, width: 86 * S, height: 4.8 * S, background: col, zIndex: 6 }} />
          <Lbl x={821} y={yy} fs={41.5} anchor="left" z={6}>{txt || <>WireMod <i>Y-Z</i> MC</>}</Lbl>
        </React.Fragment>
      ))}
      <Lbl x={576} y={1204} fs={38} anchor="left" z={6}>TPC 0 Plane 2, <i>y</i> = 93, <i>z</i> = 360</Lbl>

      {/* paragraph */}
      <BodyLine x={1327} base={1358} ls={0.4}>The panels above show how the <i>y</i>, <i>z</i>, and <i>x</i>-<i>θ</i><i style={sub as any}>xw</i> splines capture residual data-MC</BodyLine>
      <BodyLine x={1327} base={1460}>differences. The inset figure shows an example hit charge distribution from a region</BodyLine>
      <BodyLine x={1327} base={1561}>of the collection plane with a large spline value. We see the data and MC distribution</BodyLine>
      <BodyLine x={1327} base={1662} ls={0.7}>shapes differ in peak position and the agreement is improved after WireMod.</BodyLine>
    </div>
  );
}
